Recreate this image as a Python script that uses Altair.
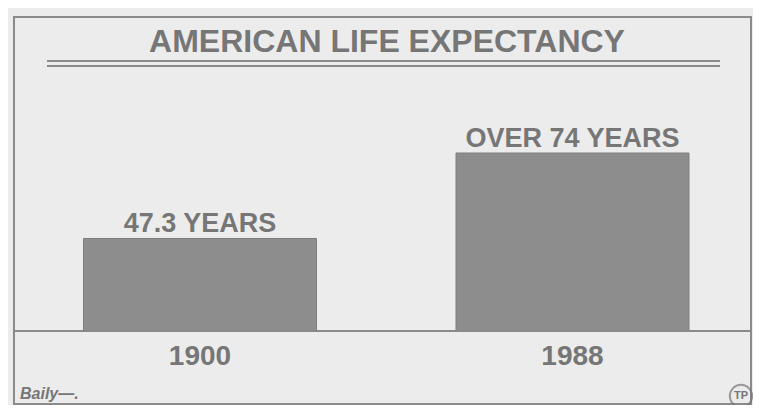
import altair as alt
import pandas as pd

# ---- data ----
years = ["1900", "1988"]
life_expectancy = [47.3, 74.0]
value_labels = ["47.3 YEARS", "OVER 74 YEARS"]
title_text = ["AMERICAN LIFE EXPECTANCY"]
signature = ["Baily—."]
logo_text = ["TP"]
# the original graphic is not drawn from zero: its hidden baseline sits near 18.4 years
y_floor = 18.4
y_ceiling = 119.3

df = pd.DataFrame({"year": years, "value": life_expectancy, "label": value_labels})
title_df = pd.DataFrame({"t": title_text})
sig_df = pd.DataFrame({"t": signature})
logo_df = pd.DataFrame({"t": logo_text})

FONT = "Liberation Sans"
INK = "#767676"
LINE = "#8a8a8a"
BAR = "#8d8d8d"
BG = "#ececec"

x_enc = alt.X("year:N", axis=None, sort=years,
              scale=alt.Scale(range=[75.5, 681], paddingInner=0.3745, paddingOuter=0))
y_scale = alt.Scale(domain=[y_floor, y_ceiling], range=[323, 0], nice=False, zero=False)
y_enc = alt.Y("value:Q", axis=None, scale=y_scale)

base = alt.Chart(df)

bars = base.mark_bar(color=BAR, stroke="#7e7e7e", strokeWidth=1).encode(
    x=x_enc, y=y_enc, y2=alt.datum(y_floor)
)

value_text = base.mark_text(font=FONT, fontWeight="bold", fontSize=27, color=INK,
                            baseline="alphabetic", dy=-6).encode(
    x=x_enc, y=y_enc, text="label:N"
)

year_text = base.mark_text(font=FONT, fontWeight="bold", fontSize=28, color=INK,
                           baseline="middle").encode(
    x=x_enc, y=alt.value(349), text="year:N"
)

baseline = base.mark_rule(color=LINE, strokeWidth=2).encode(
    y=alt.datum(y_floor), x=alt.value(6), x2=alt.value(743)
)

frame = alt.Chart(title_df).mark_rect(fillOpacity=0, stroke=LINE, strokeWidth=2).encode(
    x=alt.value(6), x2=alt.value(743), y=alt.value(9), y2=alt.value(396)
)

title = alt.Chart(title_df).mark_text(font=FONT, fontWeight="bold", fontSize=32, color=INK,
                                      align="center", baseline="alphabetic").encode(
    x=alt.value(379), y=alt.value(44), text="t:N"
)

rule_a = alt.Chart(title_df).mark_rule(color=LINE, strokeWidth=2).encode(
    x=alt.value(39), x2=alt.value(712), y=alt.value(53)
)
rule_b = alt.Chart(title_df).mark_rule(color=LINE, strokeWidth=2).encode(
    x=alt.value(39), x2=alt.value(712), y=alt.value(58)
)

sig = alt.Chart(sig_df).mark_text(font=FONT, fontStyle="italic", fontWeight="bold", fontSize=16,
                                  color=INK, align="left", baseline="middle").encode(
    x=alt.value(12), y=alt.value(386), text="t:N"
)

logo_ring = alt.Chart(logo_df).mark_point(shape="circle", size=500, filled=False,
                                          stroke=INK, strokeWidth=2).encode(
    x=alt.value(733), y=alt.value(388)
)
logo = alt.Chart(logo_df).mark_text(font=FONT, fontWeight="bold", fontSize=11, color=INK,
                                    align="center", baseline="middle").encode(
    x=alt.value(733), y=alt.value(388), text="t:N"
)

chart = alt.layer(
    frame, rule_a, rule_b, title, bars, value_text, baseline, year_text, sig, logo_ring, logo
).properties(
    width=745, height=397, padding=0, autosize=alt.AutoSizeParams(type="none"),
    background=BG
).configure_view(stroke=None)

chart.save("out.html", embed_options={"renderer": "svg", "actions": False})
